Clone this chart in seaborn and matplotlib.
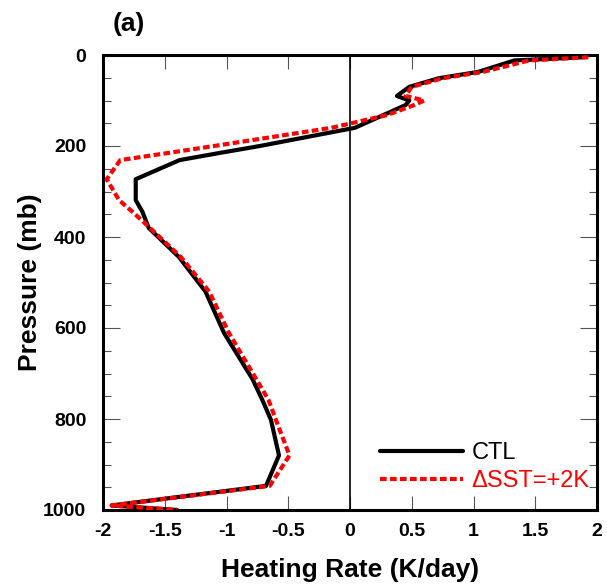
import matplotlib
matplotlib.use("Agg")
import matplotlib.pyplot as plt
import seaborn as sns
import pandas as pd
from matplotlib.ticker import MultipleLocator

# Data
pressure = [5, 12, 37, 51, 70, 90, 100, 110, 132, 160, 200, 215, 231, 273, 319, 345,
            380, 444, 520, 611, 712, 758, 802, 880, 947, 990, 1000]
ctl = [1.88, 1.33, 1.04, 0.72, 0.48, 0.38, 0.48, 0.45, 0.27, 0.04, -0.73, -1.05, -1.38,
       -1.735, -1.735, -1.68, -1.63, -1.385, -1.17, -1.02, -0.79, -0.71, -0.64, -0.575,
       -0.68, -1.93, -1.40]
sst2k = [1.93, 1.45, 1.08, 0.75, 0.50, 0.45, 0.60, 0.52, 0.30, -0.15, -1.10, -1.465, -1.86,
         -1.97, -1.87, -1.76, -1.62, -1.37, -1.14, -0.98, -0.76, -0.66, -0.60, -0.49,
         -0.65, -1.93, -1.40]
labels = ["CTL", "\u0394SST=+2K"]
xticks = [-2, -1.5, -1, -0.5, 0, 0.5, 1, 1.5, 2]
xticklabels = ["-2", "-1.5", "-1", "-0.5", "0", "0.5", "1", "1.5", "2"]
yticks = [0, 200, 400, 600, 800, 1000]

sns.set_theme(style="white")
plt.rcParams['font.family'] = ['Liberation Sans', 'DejaVu Sans']
plt.rcParams.update({"text.color": "black", "axes.labelcolor": "black",
                     "xtick.color": "black", "ytick.color": "black"})

df = pd.concat([
    pd.DataFrame({"p": pressure, "rate": ctl, "run": labels[0]}),
    pd.DataFrame({"p": pressure, "rate": sst2k, "run": labels[1]}),
])

fig = plt.figure(figsize=(6.07, 5.87), dpi=100)
ax = fig.add_axes([103/607, 1-510/587, (597-103)/607, (510-55)/587])

ax.axvline(0, color="black", lw=1.2, zorder=1)

sns.lineplot(data=df[df.run == labels[0]], x="rate", y="p", sort=False, estimator=None,
             color="black", lw=3.0, ax=ax, label=labels[0], zorder=3)
sns.lineplot(data=df[df.run == labels[1]], x="rate", y="p", sort=False, estimator=None,
             color="#ff0000", lw=3.0, ax=ax, label=labels[1], zorder=4)
ax.lines[-1].set_linestyle((0, (1.6, 0.8)))

ax.set_xlim(-2, 2)
ax.set_ylim(1000, 0)
ax.set_xticks(xticks)
ax.set_xticklabels(xticklabels)
ax.set_yticks(yticks)
ax.yaxis.set_minor_locator(MultipleLocator(50))

for s in ax.spines.values():
    s.set_color("black")
    s.set_linewidth(2.2)
    s.set_visible(True)

ax.tick_params(axis="x", which="major", direction="in", length=10, width=0.8,
               color="#555555", top=True, bottom=True, labelsize=14, pad=9)
ax.tick_params(axis="y", which="major", direction="in", length=12, width=0.8,
               color="#555555", left=True, right=True, labelsize=14, pad=12)
ax.tick_params(axis="y", which="minor", direction="in", length=6, width=0.8,
               color="#555555", left=True, right=True)
for lab in ax.get_xticklabels() + ax.get_yticklabels():
    lab.set_fontweight("bold")

ax.set_xlabel("Heating Rate (K/day)", fontsize=19, fontweight="bold")
ax.set_ylabel("Pressure (mb)", fontsize=19, fontweight="bold")
ax.xaxis.set_label_coords(0.5, (510-570)/455)
ax.xaxis.label.set_va("center")
ax.yaxis.set_label_coords((30-103)/494, 0.5)
ax.yaxis.label.set_va("center")

leg = ax.legend(loc="lower right", bbox_to_anchor=(1.013, 0.008), frameon=False,
                fontsize=17, handlelength=3.5, handletextpad=0.35, labelspacing=0.25,
                borderaxespad=0.2)
for t, c in zip(leg.get_texts(), ["black", "#ff0000"]):
    t.set_color(c)

fig.text(113/607, 1-24/587, "(a)", fontsize=19, fontweight="bold", va="center", ha="left")

fig.savefig("out.png", dpi=100)
